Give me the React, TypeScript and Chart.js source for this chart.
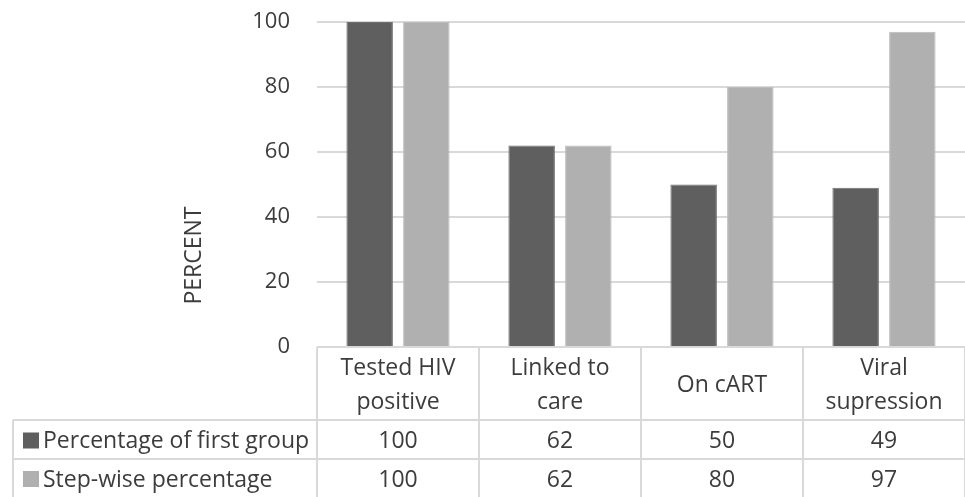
import React, { useEffect, useRef } from "react";
import { Chart, registerables } from "chart.js";

Chart.register(...registerables);

const categories: string[][] = [
  ["Tested HIV", "positive"],
  ["Linked to", "care"],
  ["On cART"],
  ["Viral", "supression"],
];
const seriesNames = ["Percentage of first group", "Step-wise percentage"];
const firstGroup = [100, 62, 50, 49];
const stepWise = [100, 62, 80, 97];
const seriesColors = ["#5f5f5f", "#b0b0b0"];
const yTicks = [0, 20, 40, 60, 80, 100];
const yTitle = "PERCENT";

const FONT = "'Open Sans', sans-serif";
const TEXT = "#3c3c3c";
const LINE = "#d9d9d9";

const tablePlugin = {
  id: "dataTable",
  afterDraw(chart: any) {
    const ctx = chart.ctx as CanvasRenderingContext2D;
    const x = chart.scales.x;
    const area = chart.chartArea;
    const n = categories.length;
    const colW = (area.right - area.left) / n;
    const top = area.bottom;
    const headerBottom = top + 73;
    const row1Bottom = headerBottom + 39;
    const bottom = chart.height;
    const tableLeft = 13;
    ctx.save();
    ctx.strokeStyle = LINE;
    ctx.lineWidth = 2;
    for (let i = 0; i <= n; i++) {
      const px = area.left + i * colW;
      ctx.beginPath();
      ctx.moveTo(px, top);
      ctx.lineTo(px, bottom);
      ctx.stroke();
    }
    ctx.beginPath();
    ctx.moveTo(tableLeft, headerBottom);
    ctx.lineTo(tableLeft, bottom);
    ctx.stroke();
    ctx.beginPath();
    ctx.moveTo(area.left, top);
    ctx.lineTo(area.right, top);
    ctx.moveTo(tableLeft, headerBottom);
    ctx.lineTo(area.right, headerBottom);
    ctx.moveTo(tableLeft, row1Bottom);
    ctx.lineTo(area.right, row1Bottom);
    ctx.stroke();

    ctx.fillStyle = TEXT;
    ctx.font = `23px ${FONT}`;
    ctx.textAlign = "center";
    ctx.textBaseline = "middle";
    const headerMid = (top + headerBottom) / 2 + 2;
    const lh = 34;
    categories.forEach((lines, i) => {
      const cx = x.getPixelForValue(i);
      const startY = headerMid - ((lines.length - 1) * lh) / 2;
      lines.forEach((t, j) => ctx.fillText(t, cx, startY + j * lh));
    });
    const rowMids = [(headerBottom + row1Bottom) / 2 + 2, (row1Bottom + bottom) / 2 + 2];
    const rows = [firstGroup, stepWise];
    rows.forEach((vals, r) => {
      vals.forEach((v, i) => {
        ctx.fillText(String(v), x.getPixelForValue(i), rowMids[r]);
      });
    });
    ctx.textAlign = "left";
    seriesNames.forEach((name, r) => {
      ctx.fillStyle = seriesColors[r];
      ctx.fillRect(23, rowMids[r] - 9, 16, 16);
      ctx.fillStyle = TEXT;
      ctx.fillText(name, 43, rowMids[r]);
    });
    ctx.save();
    ctx.translate(194, (area.top + bottom) / 2 - 4);
    ctx.rotate(-Math.PI / 2);
    ctx.textAlign = "center";
    ctx.fillText(yTitle, 0, 0);
    ctx.restore();
    ctx.restore();
  },
};

export default function App() {
  const ref = useRef<HTMLCanvasElement | null>(null);
  useEffect(() => {
    document.body.style.margin = "0";
    if (!ref.current) return;
    const chart = new Chart(ref.current, {
      type: "bar",
      data: {
        labels: categories.map((c) => c.join(" ")),
        datasets: [
          {
            label: seriesNames[0],
            data: firstGroup,
            backgroundColor: seriesColors[0],
            borderColor: "#6e6e6e",
            borderWidth: 1,
            categoryPercentage: 0.7,
            barPercentage: 0.82,
          },
          {
            label: seriesNames[1],
            data: stepWise,
            backgroundColor: seriesColors[1],
            borderColor: "#bcbcbc",
            borderWidth: 1,
            categoryPercentage: 0.7,
            barPercentage: 0.82,
          },
        ],
      },
      options: {
        animation: false,
        responsive: false,
        maintainAspectRatio: false,
        layout: { padding: { top: 22, bottom: 150, left: 0, right: 0 } },
        plugins: { legend: { display: false }, tooltip: { enabled: false } },
        scales: {
          x: { display: false },
          y: {
            min: 0,
            max: 100,
            afterFit: (s: any) => {
              s.width = 317;
              s.paddingTop = 12;
              s.paddingBottom = 12;
            },
            afterBuildTicks: (s: any) => {
              s.ticks = yTicks.map((v) => ({ value: v }));
            },
            border: { display: false },
            grid: { color: LINE, lineWidth: 2, drawTicks: false },
            ticks: {
              padding: 27,
              color: TEXT,
              font: { family: FONT, size: 22 },
            },
          },
        },
      },
      plugins: [tablePlugin],
    });
    return () => chart.destroy();
  }, []);
  return (
    <div style={{ width: 965, height: 497 }}>
      <canvas ref={ref} width={965} height={497} style={{ width: 965, height: 497 }} />
    </div>
  );
}
